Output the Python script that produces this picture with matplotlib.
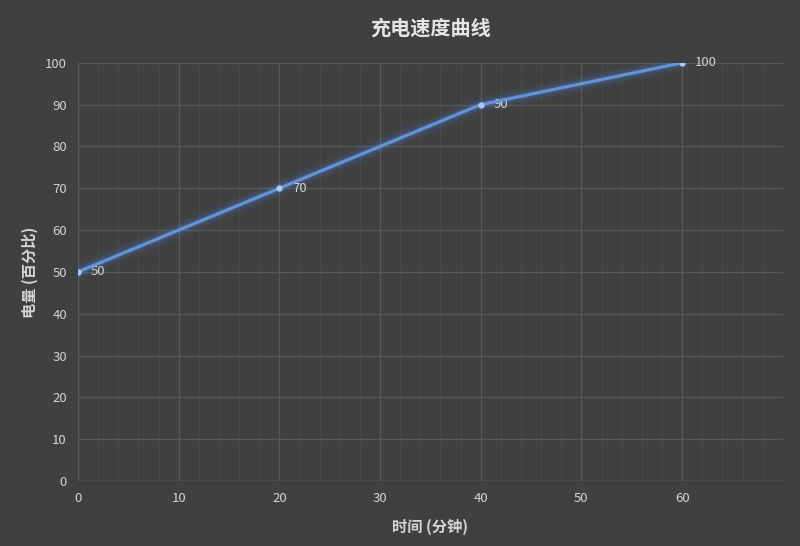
import matplotlib
matplotlib.use("Agg")
import matplotlib.pyplot as plt
from matplotlib.ticker import MultipleLocator

plt.rcParams['font.family'] = ['Noto Sans CJK SC', 'DejaVu Sans']

minutes = [0, 20, 40, 60]
charge = [50, 70, 90, 100]
x_ticks = [0, 10, 20, 30, 40, 50, 60]
y_ticks = [0, 10, 20, 30, 40, 50, 60, 70, 80, 90, 100]

bg = "#404040"
grid_major = "#585858"
grid_minor = "#484848"
text_col = "#d4d4d4"
line_col = "#6494d8"

fig = plt.figure(figsize=(8, 5.46), dpi=100, facecolor=bg)
ax = fig.add_axes([0.0975, 0.119, 0.881, 0.766], facecolor=bg)

# glow around the line
for lw, a in [(12, 0.05), (9, 0.07), (6, 0.1), (4, 0.16)]:
    ax.plot(minutes, charge, color="#4f8ae8", lw=lw, alpha=a,
            solid_capstyle="round", zorder=3)
ax.plot(minutes, charge, color=line_col, lw=2.2, zorder=4)
ax.plot(minutes, charge, "o", color="#a9c8f2", ms=3.5, zorder=5)

for x, y in zip(minutes, charge):
    ax.annotate(str(y), (x, y), xytext=(9, 0), textcoords="offset points",
                va="center", ha="left", color=text_col, fontsize=9.5)

ax.set_xlim(0, 70)
ax.set_ylim(0, 100)
ax.set_xticks(x_ticks)
ax.set_yticks(y_ticks)
ax.xaxis.set_minor_locator(MultipleLocator(2))
ax.grid(which="major", color=grid_major, lw=0.9, zorder=0)
ax.grid(which="minor", axis="x", color=grid_minor, lw=0.8, zorder=0)
ax.tick_params(which="both", length=0, colors=text_col, labelsize=9.5)
ax.tick_params(axis="x", pad=8)
ax.tick_params(axis="y", pad=8)
for s in ax.spines.values():
    s.set_visible(False)
ax.axvline(0, color="#666666", lw=1, zorder=1)
ax.axhline(0, color="#666666", lw=1, zorder=1)

ax.set_title("充电速度曲线", color="#e6e6e6", fontsize=14.5, fontweight="bold", pad=20)
ax.set_xlabel("时间 (分钟)", color=text_col, fontsize=11, fontweight="bold", labelpad=10)
ax.set_ylabel("电量 (百分比)", color=text_col, fontsize=11, fontweight="bold", labelpad=5)

fig.savefig("out.png", dpi=100, facecolor=bg)
